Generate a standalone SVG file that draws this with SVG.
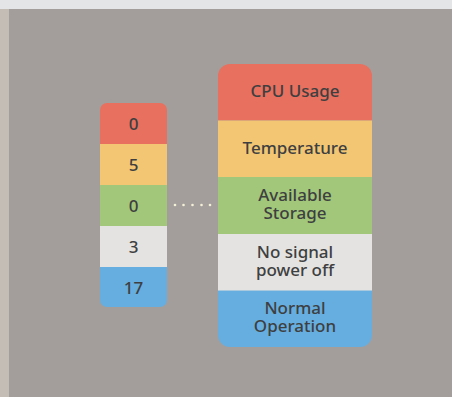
<svg xmlns="http://www.w3.org/2000/svg" width="452" height="397" viewBox="0 0 452 397">
<defs>
<style>
.t{font-family:"Noto Sans","Open Sans","DejaVu Sans",sans-serif;font-size:17px;font-weight:500;fill:#3e3f40;text-anchor:middle}
.red{fill:#e8705f}.yel{fill:#f3c674}.grn{fill:#a2c77a}.gry{fill:#e4e3e1}.blu{fill:#66aee0}
.dot{fill:#f4f0d6}
</style>
<clipPath id="cl"><rect x="100" y="103" width="67" height="204" rx="7"/></clipPath>
<clipPath id="cr"><rect x="218" y="64" width="154" height="283" rx="12"/></clipPath>
</defs>
<rect width="452" height="397" fill="#a39e9b"/>
<rect width="452" height="9" fill="#e4e5e7"/>
<rect x="0" y="9" width="9" height="388" fill="#c4bdb6"/>
<g id="values" clip-path="url(#cl)">
<g id="v-cpu"><rect class="red" x="100" y="103" width="67" height="41"/><text class="t" x="133.5" y="130">0</text></g>
<g id="v-temp"><rect class="yel" x="100" y="144" width="67" height="41"/><text class="t" x="133.5" y="171">5</text></g>
<g id="v-storage"><rect class="grn" x="100" y="185" width="67" height="41"/><text class="t" x="133.5" y="212">0</text></g>
<g id="v-nosignal"><rect class="gry" x="100" y="226" width="67" height="41"/><text class="t" x="133.5" y="253">3</text></g>
<g id="v-normal"><rect class="blu" x="100" y="267" width="67" height="40"/><text class="t" x="133.5" y="293.5">17</text></g>
</g>
<g id="connectors">
<circle class="dot" cx="175" cy="205" r="1.3"/>
<circle class="dot" cx="183.5" cy="205" r="1.3"/>
<circle class="dot" cx="192.5" cy="205" r="1.3"/>
<circle class="dot" cx="201.5" cy="205" r="1.3"/>
<circle class="dot" cx="210" cy="205" r="1.3"/>
</g>
<g id="legend" clip-path="url(#cr)">
<g id="l-cpu"><rect class="red" x="218" y="64" width="154" height="56.5"/><text class="t" x="295" y="97">CPU Usage</text></g>
<g id="l-temp"><rect class="yel" x="218" y="120.5" width="154" height="56.5"/><text class="t" x="295" y="154">Temperature</text></g>
<g id="l-storage"><rect class="grn" x="218" y="177" width="154" height="57"/><text class="t" x="295" y="200.5">Available</text><text class="t" x="295" y="219">Storage</text></g>
<g id="l-nosignal"><rect class="gry" x="218" y="234" width="154" height="56"/><text class="t" x="295" y="258">No signal</text><text class="t" x="295" y="276">power off</text></g>
<g id="l-normal"><rect class="blu" x="218" y="290" width="154" height="57"/><rect x="218" y="290" width="154" height="1" fill="#a9c9df"/><text class="t" x="295" y="314">Normal</text><text class="t" x="295" y="332">Operation</text></g>
</g>
</svg>
